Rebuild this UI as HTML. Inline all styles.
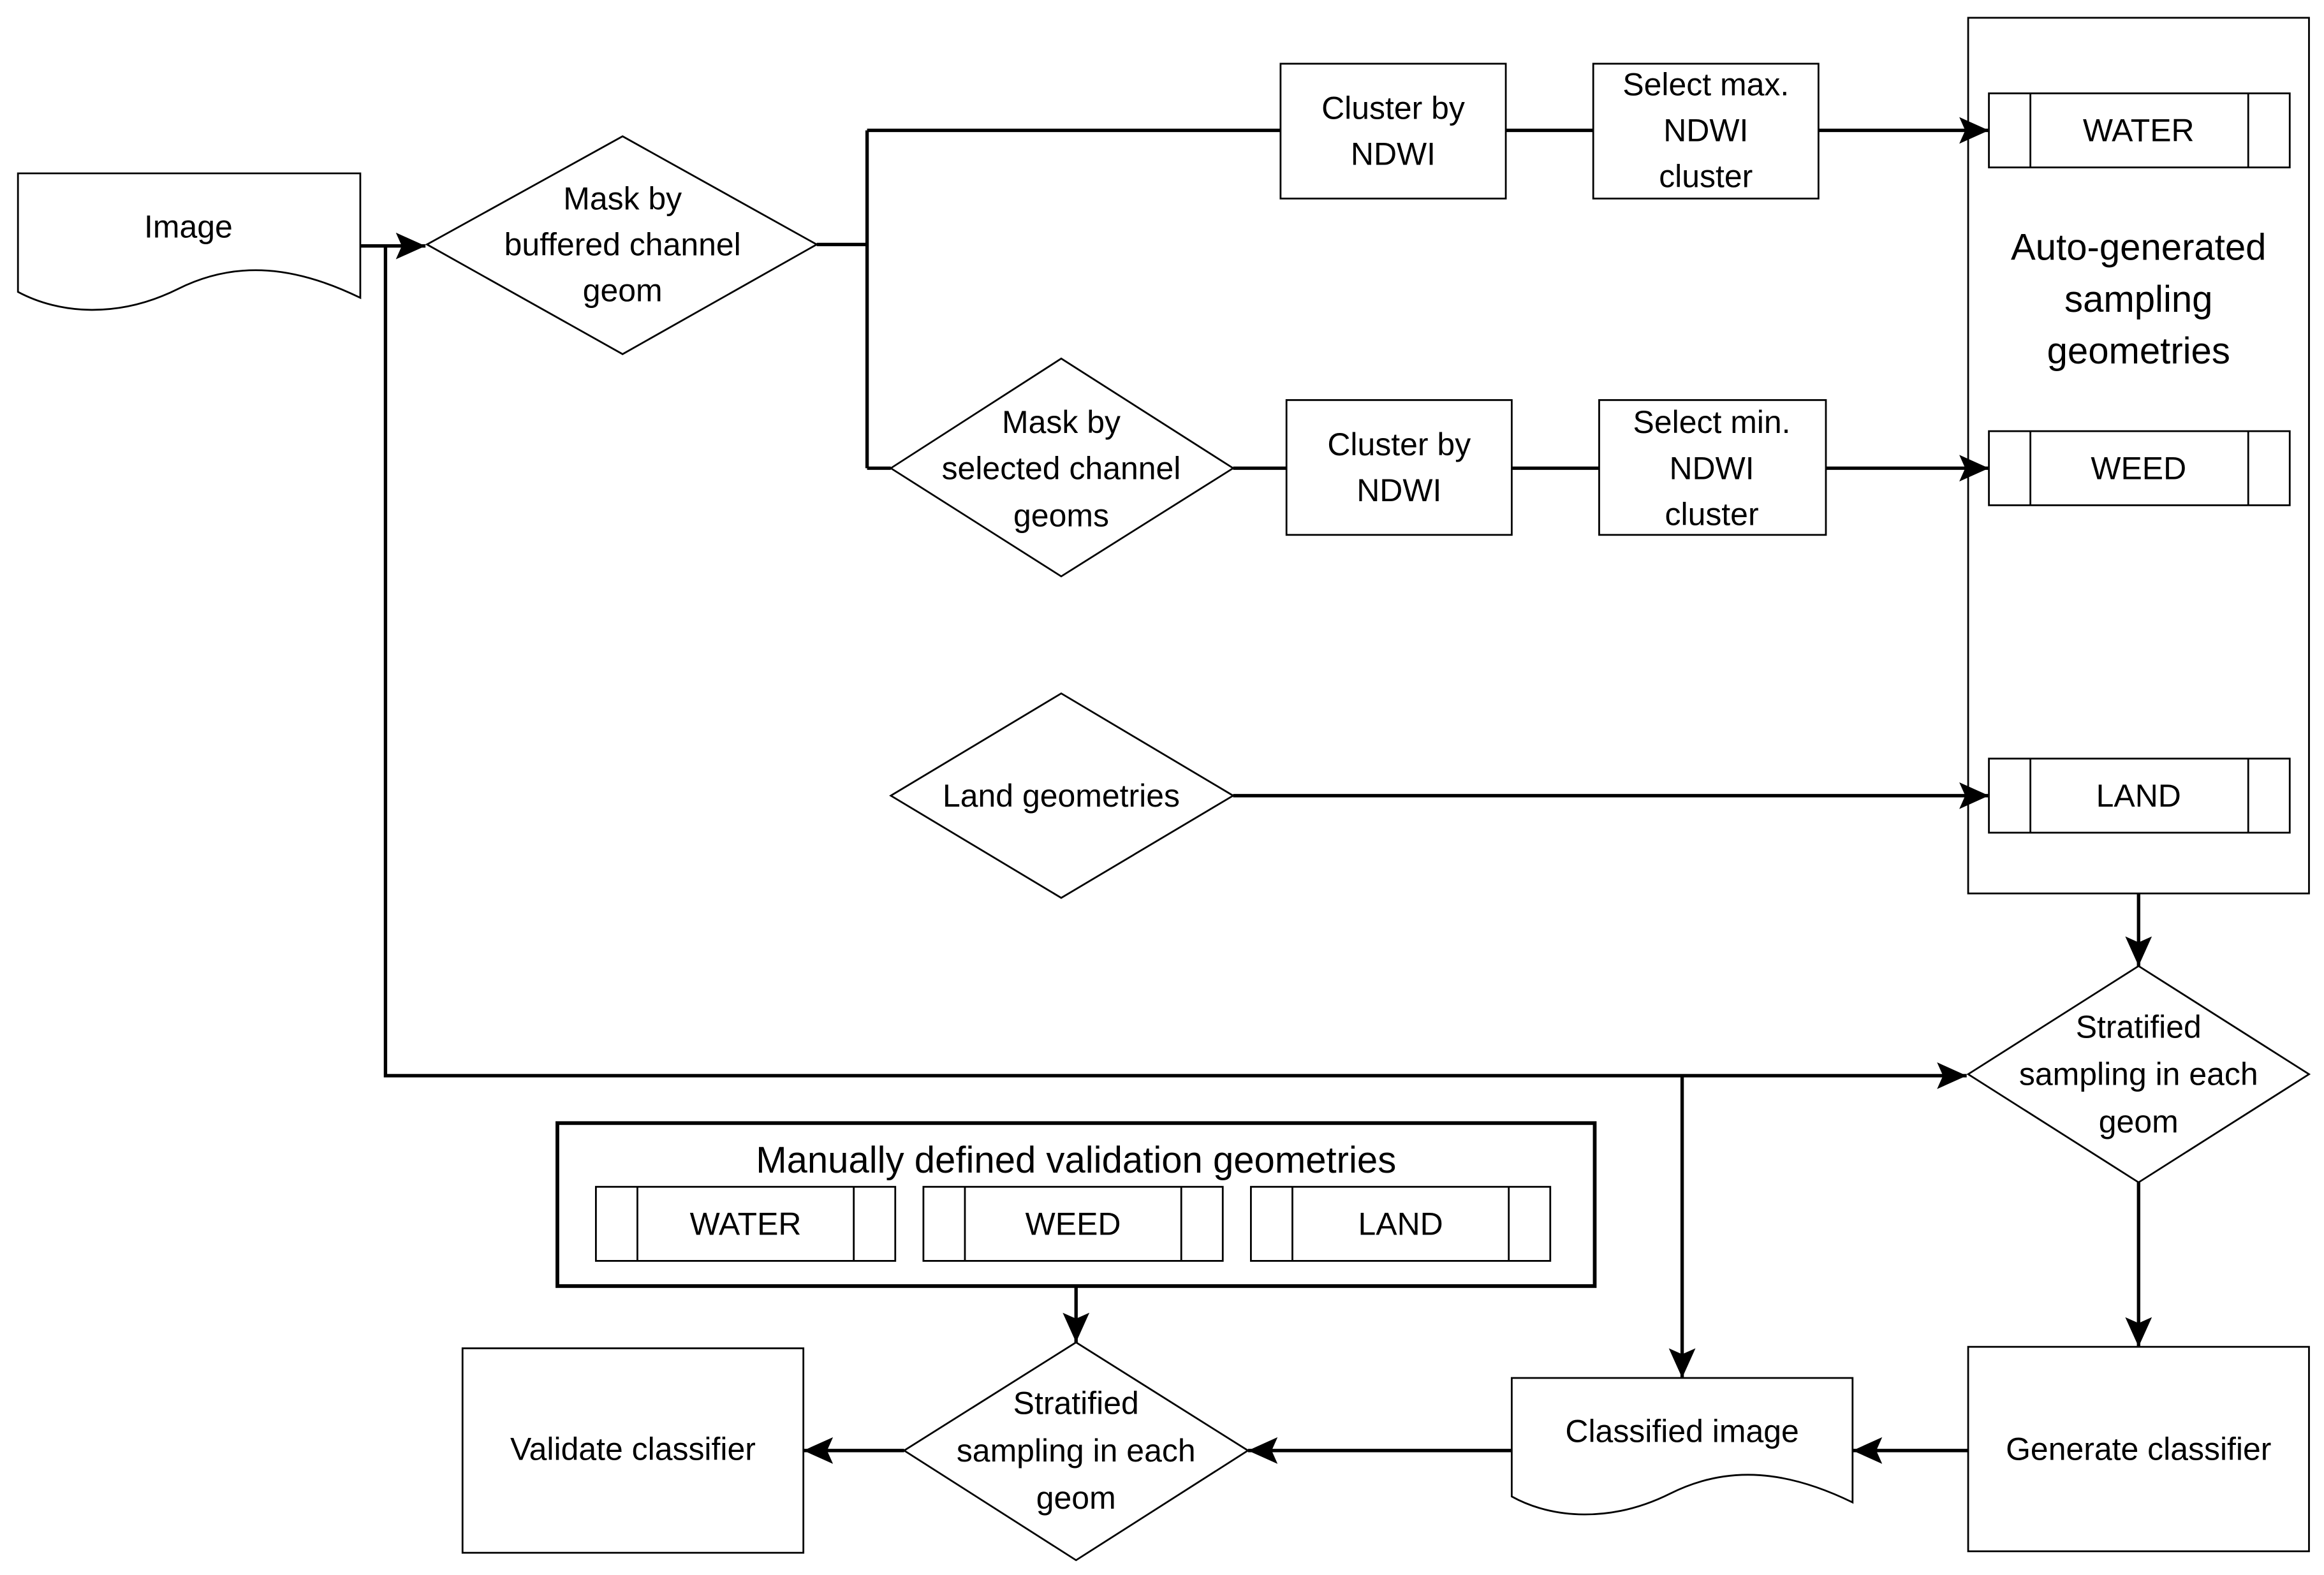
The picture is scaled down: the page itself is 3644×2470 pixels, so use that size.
<!DOCTYPE html>
<html><head><meta charset="utf-8"><style>
html,body{margin:0;padding:0;background:#fff;}
svg{display:block;}
text{font-family:"Liberation Sans",sans-serif;font-size:21.5px;fill:#000;text-anchor:middle;dominant-baseline:central;}
.s{fill:#fff;stroke:#000;stroke-width:1.2;}
.c{fill:none;stroke:#000;stroke-width:2.3;}
</style></head><body>
<svg width="3644" height="2470" viewBox="0 0 1568 1063" xmlns="http://www.w3.org/2000/svg">
<defs><marker id="a" markerUnits="userSpaceOnUse" markerWidth="22" markerHeight="22" refX="20" refY="9" orient="auto"><path d="M0,0 L20,9 L0,18 L4,9 Z" fill="#000"/></marker></defs>
<rect width="1568" height="1063" fill="#fff"/>
<!-- Image doc -->
<path class="s" d="M12,117 H243 V201 C200,180 160,175 120,195 C80,215 40,212 12,197 Z"/>
<text x="127" y="153">Image</text>
<!-- Diamond 1 -->
<path class="s" d="M288,165 L420,92 L551,165 L420,239 Z"/>
<text x="420" y="134">Mask by</text><text x="420" y="165">buffered channel</text><text x="420" y="196">geom</text>
<!-- Row 1 -->
<rect class="s" x="864" y="43" width="152" height="91"/>
<text x="940" y="73">Cluster by</text><text x="940" y="104">NDWI</text>
<rect class="s" x="1075" y="43" width="152" height="91"/>
<text x="1151" y="57">Select max.</text><text x="1151" y="88">NDWI</text><text x="1151" y="119">cluster</text>
<!-- Container -->
<rect class="s" x="1328" y="12" width="230" height="591"/>
<text x="1443" y="167" style="font-size:25px">Auto-generated</text>
<text x="1443" y="202" style="font-size:25px">sampling</text>
<text x="1443" y="237" style="font-size:25px">geometries</text>
<g><rect class="s" x="1342" y="63" width="203" height="50"/><path class="s" d="M1370,63V113M1517,63V113"/><text x="1443" y="88">WATER</text></g>
<g><rect class="s" x="1342" y="291" width="203" height="50"/><path class="s" d="M1370,291V341M1517,291V341"/><text x="1443" y="316">WEED</text></g>
<g><rect class="s" x="1342" y="512" width="203" height="50"/><path class="s" d="M1370,512V562M1517,512V562"/><text x="1443" y="537">LAND</text></g>
<!-- Diamond 2 -->
<path class="s" d="M601,316 L716,242 L832,316 L716,389 Z"/>
<text x="716" y="285">Mask by</text><text x="716" y="316">selected channel</text><text x="716" y="348">geoms</text>
<rect class="s" x="868" y="270" width="152" height="91"/>
<text x="944" y="300">Cluster by</text><text x="944" y="331">NDWI</text>
<rect class="s" x="1079" y="270" width="153" height="91"/>
<text x="1155" y="285">Select min.</text><text x="1155" y="316">NDWI</text><text x="1155" y="347">cluster</text>
<!-- Land diamond -->
<path class="s" d="M601,537 L716,468 L832,537 L716,606 Z"/>
<text x="716" y="537">Land geometries</text>
<!-- Stratified 1 -->
<path class="s" d="M1328,725 L1443,652 L1558,725 L1443,798 Z"/>
<text x="1443" y="693">Stratified</text><text x="1443" y="725">sampling in each</text><text x="1443" y="757">geom</text>
<!-- Generate classifier -->
<rect class="s" x="1328" y="909" width="230" height="138"/>
<text x="1443" y="978">Generate classifier</text>
<!-- Classified image -->
<path class="s" d="M1020,930 H1250 V1014 C1207,993 1167,988 1127,1008 C1087,1028 1047,1025 1020,1010 Z"/>
<text x="1135" y="966">Classified image</text>
<!-- Stratified 2 -->
<path class="s" d="M610,979 L726,906 L842,979 L726,1053 Z"/>
<text x="726" y="947">Stratified</text><text x="726" y="979">sampling in each</text><text x="726" y="1011">geom</text>
<!-- Validate -->
<rect class="s" x="312" y="910" width="230" height="138"/>
<text x="427" y="978">Validate classifier</text>
<!-- Manual box -->
<rect x="376" y="758" width="700" height="110" fill="#fff" stroke="#000" stroke-width="2.5"/>
<text x="726" y="783" style="font-size:25px">Manually defined validation geometries</text>
<g><rect class="s" x="402" y="801" width="202" height="50"/><path class="s" d="M430,801V851M576,801V851"/><text x="503" y="826">WATER</text></g>
<g><rect class="s" x="623" y="801" width="202" height="50"/><path class="s" d="M651,801V851M797,801V851"/><text x="724" y="826">WEED</text></g>
<g><rect class="s" x="844" y="801" width="202" height="50"/><path class="s" d="M872,801V851M1018,801V851"/><text x="945" y="826">LAND</text></g>
<!-- connectors -->
<path class="c" d="M243,166 H287" marker-end="url(#a)"/>
<path class="c" d="M260,166 V726 H1327" marker-end="url(#a)"/>
<path class="c" d="M551,165 H585 M585,88 V316 M585,88 H864 M585,316 H601 M1016,88 H1075 M832,316 H868 M1020,316 H1079"/>
<path class="c" d="M1227,88 H1342" marker-end="url(#a)"/>
<path class="c" d="M1232,316 H1342" marker-end="url(#a)"/>
<path class="c" d="M832,537 H1342" marker-end="url(#a)"/>
<path class="c" d="M1443,603 V652" marker-end="url(#a)"/>
<path class="c" d="M1443,798 V909" marker-end="url(#a)"/>
<path class="c" d="M1135,726 V930" marker-end="url(#a)"/>
<path class="c" d="M1328,979 H1250" marker-end="url(#a)"/>
<path class="c" d="M1020,979 H842" marker-end="url(#a)"/>
<path class="c" d="M610,979 H542" marker-end="url(#a)"/>
<path class="c" d="M726,868 V906" marker-end="url(#a)"/>
</svg>
</body></html>
